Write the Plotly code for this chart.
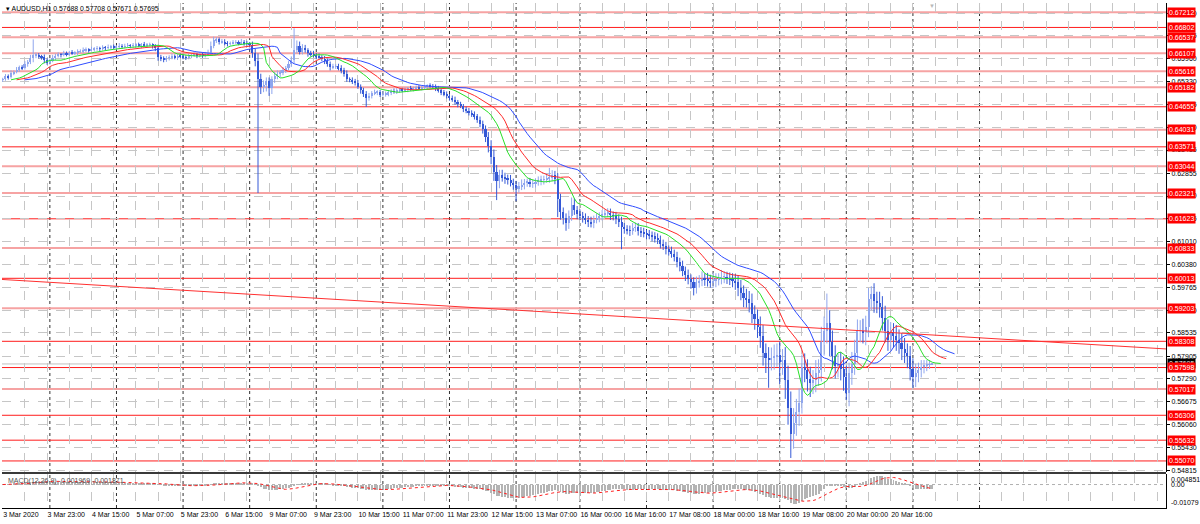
import plotly.graph_objects as go

# ---------------- data (prices in 1e-5 units) ----------------
PRICE_UNIT = 1e-5

closes_i = [
    65400, 65480, 65450, 65560, 65600, 65660, 65720, 65700, 65800, 65860, 65980, 66050,
    66060, 66020, 66000, 65920, 65850, 65900, 65980, 66040, 66070, 66060, 66100, 66080,
    66120, 66100, 66120, 66150, 66160, 66180, 66200, 66190, 66210, 66220, 66240, 66230,
    66260, 66250, 66270, 66280, 66260, 66280, 66300, 66290, 66300, 66310, 66300, 66320,
    66330, 66310, 66340, 66320, 66330, 66330, 66300, 66250, 66000, 65950, 65940, 65980,
    65990, 66020, 66000, 66040, 66020, 66000, 65990, 66030, 66050, 66060, 66040, 66070,
    66040, 66080, 66120, 66300, 66450, 66480, 66400, 66420, 66380, 66360, 66380, 66400,
    66400, 66380, 66420, 66380, 66360, 66340, 66100, 65900, 65400, 65200, 65250, 65350,
    65150, 65400, 65480, 65550, 65580, 65650, 65700, 65800, 65920, 66200, 66300, 66150,
    66250, 66180, 66100, 66080, 66050, 66020, 66000, 65960, 65900, 65800, 65720, 65750,
    65750, 65700, 65650, 65550, 65400, 65380, 65350, 65300, 65200, 65100, 65000, 64880,
    64950, 65020, 65050, 65050, 64980, 65000, 65000, 65050, 65080, 65060, 65100, 65120,
    65100, 65120, 65150, 65130, 65150, 65170, 65160, 65180, 65200, 65220, 65210, 65200,
    65150, 65100, 65050, 65000, 64950, 64900, 64850, 64780, 64720, 64680, 64600, 64550,
    64500, 64450, 64400, 64300, 64200, 64050, 63850, 63600, 63300, 62900, 62650, 62800,
    62750, 62720, 62680, 62600, 62550, 62450, 62500, 62550, 62600, 62620, 62580, 62580,
    62620, 62650, 62680, 62700, 62720, 62750, 62800, 62700, 62150, 61800, 61650, 61500,
    61700, 62000, 61850, 61750, 61700, 61650, 61600, 61550, 61500, 61600, 61650, 61700,
    61750, 61780, 61780, 61720, 61700, 61620, 61550, 61400, 61350, 61320, 61300, 61380,
    61400, 61300, 61250, 61220, 61200, 61180, 61150, 61100, 61050, 60950, 60900, 60800,
    60750, 60680, 60600, 60450, 60350, 60200, 60100, 60000, 59900, 59750, 59900, 59950,
    60000, 59980, 59950, 59900, 59950, 59980, 60000, 60050, 60050, 60020, 59980, 59950,
    59900, 59750, 59620, 59480, 59450, 59350, 59050, 58900, 58700, 58450, 58000, 57850,
    57820, 57860, 57900, 57950, 57750, 57800, 57250, 56500, 55800, 56100, 56400, 56650,
    57600, 57520, 57300, 57180, 57250, 57450, 57520, 58300, 58600, 58800, 58300, 57900,
    57650, 57700, 57550, 57350, 56900, 57450, 57700, 58000, 58600, 58600, 58550, 58700,
    59450, 59600, 59400, 59350, 59250, 58950, 58600, 58350, 58550, 58450, 58350, 58250,
    58100, 58000, 57900, 57550, 57350, 57450, 57530, 57620, 57650, 57680, 57688, 57695,
]

opens_i = [
    65380, 65400, 65480, 65450, 65560, 65600, 65660, 65720, 65700, 65800, 65860, 65980,
    66050, 66060, 66020, 66000, 65920, 65850, 65900, 65980, 66040, 66070, 66060, 66100,
    66080, 66120, 66100, 66120, 66150, 66160, 66180, 66200, 66190, 66210, 66220, 66240,
    66230, 66260, 66250, 66270, 66280, 66260, 66280, 66300, 66290, 66300, 66310, 66300,
    66320, 66330, 66310, 66340, 66320, 66330, 66330, 66300, 66250, 66000, 65950, 65940,
    65980, 65990, 66020, 66000, 66040, 66020, 66000, 65990, 66030, 66050, 66060, 66040,
    66070, 66040, 66080, 66120, 66300, 66450, 66480, 66400, 66420, 66380, 66360, 66380,
    66400, 66400, 66380, 66420, 66380, 66360, 66340, 66100, 65900, 65400, 65200, 65250,
    65350, 65150, 65400, 65480, 65550, 65580, 65650, 65700, 65800, 65920, 66200, 66300,
    66150, 66250, 66180, 66100, 66080, 66050, 66020, 66000, 65960, 65900, 65800, 65720,
    65750, 65750, 65700, 65650, 65550, 65400, 65380, 65350, 65300, 65200, 65100, 65000,
    64880, 64950, 65020, 65050, 65050, 64980, 65000, 65000, 65050, 65080, 65060, 65100,
    65120, 65100, 65120, 65150, 65130, 65150, 65170, 65160, 65180, 65200, 65220, 65210,
    65200, 65150, 65100, 65050, 65000, 64950, 64900, 64850, 64780, 64720, 64680, 64600,
    64550, 64500, 64450, 64400, 64300, 64200, 64050, 63850, 63600, 63300, 62900, 62650,
    62800, 62750, 62720, 62680, 62600, 62550, 62450, 62500, 62550, 62600, 62620, 62580,
    62580, 62620, 62650, 62680, 62700, 62720, 62750, 62800, 62700, 62150, 61800, 61650,
    61500, 61700, 62000, 61850, 61750, 61700, 61650, 61600, 61550, 61500, 61600, 61650,
    61700, 61750, 61780, 61780, 61720, 61700, 61620, 61550, 61400, 61350, 61320, 61300,
    61380, 61400, 61300, 61250, 61220, 61200, 61180, 61150, 61100, 61050, 60950, 60900,
    60800, 60750, 60680, 60600, 60450, 60350, 60200, 60100, 60000, 59900, 59750, 59900,
    59950, 60000, 59980, 59950, 59900, 59950, 59980, 60000, 60050, 60050, 60020, 59980,
    59950, 59900, 59750, 59620, 59480, 59450, 59350, 59050, 58900, 58700, 58450, 58000,
    57850, 57820, 57860, 57900, 57950, 57750, 57800, 57250, 56500, 55800, 56100, 56400,
    56650, 57600, 57520, 57300, 57180, 57250, 57450, 57520, 58300, 58600, 58800, 58300,
    57900, 57650, 57700, 57550, 57350, 56900, 57450, 57700, 58000, 58600, 58600, 58550,
    58700, 59450, 59600, 59400, 59350, 59250, 58950, 58600, 58350, 58550, 58450, 58350,
    58250, 58100, 58000, 57900, 57550, 57350, 57450, 57530, 57620, 57650, 57680, 57688,
]

# wick lengths above max(open, close) and below min(open, close), 1e-5 units
upper_wick = [
    40, 60, 50, 80, 40, 70, 50, 60, 90, 60, 80, 430,
    60, 50, 40, 70, 50, 60, 80, 50, 60, 40, 70, 50,
    50, 70, 40, 60, 50, 80, 60, 40, 70, 50, 60, 40,
    60, 40, 70, 50, 60, 40, 80, 50, 60, 70, 40, 60,
    50, 60, 40, 70, 50, 60, 40, 50, 80, 60, 70, 50,
    60, 70, 50, 40, 60, 70, 50, 60, 40, 70, 50, 60,
    50, 60, 80, 120, 100, 60, 50, 70, 60, 50, 40, 60,
    60, 50, 70, 40, 60, 50, 80, 120, 200, 150, 120, 100,
    100, 80, 120, 90, 70, 80, 60, 90, 100, 580, 150, 120,
    100, 80, 60, 70, 90, 60, 80, 50, 70, 60, 80, 70,
    60, 70, 80, 60, 90, 50, 70, 60, 80, 60, 70, 80,
    80, 60, 70, 50, 60, 80, 70, 60, 50, 70, 60, 50,
    50, 60, 40, 70, 50, 60, 70, 50, 60, 40, 70, 60,
    60, 70, 50, 60, 70, 50, 60, 80, 60, 70, 50, 60,
    70, 60, 80, 60, 90, 80, 100, 120, 150, 200, 180, 150,
    150, 120, 100, 130, 110, 100, 120, 140, 100, 90, 110, 100,
    100, 120, 110, 90, 130, 250, 140, 120, 160, 150, 130, 120,
    150, 200, 180, 120, 130, 110, 120, 100, 130, 110, 120, 100,
    110, 100, 130, 120, 100, 110, 120, 130, 110, 100, 120, 130,
    120, 110, 100, 130, 110, 120, 100, 110, 130, 120, 110, 100,
    100, 120, 110, 130, 120, 140, 130, 150, 120, 140, 160, 150,
    200, 150, 180, 160, 220, 170, 150, 190, 160, 140, 150, 170,
    180, 200, 220, 200, 250, 220, 250, 230, 260, 280, 300, 250,
    300, 280, 320, 300, 350, 300, 350, 400, 450, 400, 350, 380,
    350, 380, 300, 320, 280, 350, 300, 400, 380, 800, 350, 300,
    300, 280, 320, 350, 300, 280, 320, 350, 300, 280, 320, 300,
    300, 200, 280, 250, 300, 280, 320, 300, 280, 250, 300, 280,
    280, 300, 250, 280, 300, 250, 200, 180, 150, 120, 100, 13,
]
lower_wick = [
    50, 40, 60, 30, 50, 40, 60, 50, 40, 60, 50, 120,
    80, 60, 70, 90, 60, 50, 40, 60, 50, 70, 40, 60,
    60, 40, 50, 70, 40, 60, 50, 70, 40, 60, 50, 70,
    50, 60, 40, 70, 50, 60, 40, 70, 50, 40, 60, 50,
    60, 40, 70, 50, 60, 40, 70, 90, 100, 60, 80, 70,
    70, 50, 60, 80, 50, 60, 70, 50, 60, 40, 70, 50,
    60, 50, 40, 50, 60, 70, 60, 40, 60, 70, 50, 40,
    50, 60, 40, 70, 50, 80, 120, 150, 3080, 200, 150, 180,
    200, 150, 100, 80, 90, 70, 80, 60, 70, 90, 100, 80,
    80, 60, 90, 70, 60, 80, 50, 70, 90, 60, 80, 50,
    70, 60, 90, 80, 70, 60, 80, 70, 60, 90, 80, 230,
    60, 70, 50, 80, 60, 50, 70, 60, 80, 50, 60, 70,
    60, 50, 70, 40, 60, 50, 40, 60, 50, 70, 40, 60,
    70, 60, 80, 60, 70, 80, 60, 70, 80, 60, 90, 70,
    80, 70, 90, 80, 100, 120, 150, 180, 200, 250, 520, 200,
    120, 150, 130, 100, 140, 350, 120, 100, 130, 110, 100, 120,
    110, 100, 120, 130, 100, 120, 110, 140, 480, 200, 180, 200,
    150, 130, 120, 140, 110, 130, 120, 150, 110, 130, 100, 120,
    120, 100, 110, 130, 120, 140, 150, 600, 130, 120, 140, 110,
    110, 130, 120, 100, 130, 110, 140, 120, 110, 130, 120, 140,
    120, 110, 130, 140, 150, 130, 160, 150, 170, 200, 150, 140,
    150, 170, 160, 140, 150, 180, 160, 150, 170, 160, 150, 180,
    200, 220, 200, 250, 230, 260, 250, 280, 300, 320, 350, 400,
    770, 300, 320, 280, 600, 350, 500, 450, 650, 400, 350, 380,
    300, 320, 350, 380, 300, 320, 350, 300, 380, 350, 400, 350,
    350, 320, 300, 380, 180, 350, 320, 300, 280, 320, 300, 350,
    280, 300, 320, 280, 300, 350, 320, 300, 280, 320, 300, 280,
    300, 280, 320, 300, 300, 280, 250, 200, 180, 150, 120, 17,
]

symbol_text = "AUDUSD,H1"
x_tick_labels = [
    "3 Mar 2020", "3 Mar 23:00", "4 Mar 15:00", "5 Mar 07:00", "5 Mar 23:00",
    "6 Mar 15:00", "9 Mar 07:00", "9 Mar 23:00", "10 Mar 15:00", "11 Mar 07:00",
    "11 Mar 23:00", "12 Mar 15:00", "13 Mar 07:00", "16 Mar 00:00", "16 Mar 16:00",
    "17 Mar 08:00", "18 Mar 00:00", "18 Mar 16:00", "19 Mar 08:00", "20 Mar 00:00",
    "20 Mar 16:00",
]
bars_per_label = 16
bars_per_grid = 8
visible_bars = 419.2
day_separator_bars = [17, 41, 65, 89, 113, 137, 161, 185, 208, 232, 256, 280, 304, 328, 352]

price_ticks = [0.54815, 0.55430, 0.56060, 0.56675, 0.57290, 0.57905, 0.58535, 0.59150,
               0.59765, 0.60380, 0.61010, 0.61625, 0.62240, 0.62855, 0.63485, 0.64100,
               0.64715, 0.65330, 0.65960, 0.66575, 0.67190]
price_range = [0.547709, 0.674637]

levels = [0.67212, 0.66802, 0.66537, 0.66107, 0.65616, 0.65182, 0.64655, 0.64031,
          0.63571, 0.63044, 0.62321, 0.61623, 0.60833, 0.60013, 0.59203, 0.58308,
          0.57598, 0.57017, 0.56306, 0.55632, 0.55070]
level_faint = [1, 0, 1, 1, 1, 1, 0, 1, 0, 1, 1, 0, 1, 0, 1, 0, 0, 1, 0, 0, 0]

trend_bars = [-1.0, 419.5]
trend_prices = [0.59985, 0.58100]

macd_params = (12, 26, 9)
macd_header = (-0.001969, -0.001871)
macd_range = [-0.01079, 0.004851]

# ---------------- derived series ----------------
N = len(closes_i)
xs = list(range(N))
o = [v * PRICE_UNIT for v in opens_i]
c = [v * PRICE_UNIT for v in closes_i]
h = [(max(opens_i[i], closes_i[i]) + upper_wick[i]) * PRICE_UNIT for i in range(N)]
l = [(min(opens_i[i], closes_i[i]) - lower_wick[i]) * PRICE_UNIT for i in range(N)]
bid = c[-1]


def smma(vals, n):
    out, s = [], vals[0]
    for v in vals:
        s = (s * (n - 1) + v) / n
        out.append(s)
    return out


def ema(vals, n):
    a = 2.0 / (n + 1)
    out, s = [], vals[0]
    for v in vals:
        s = s + a * (v - s)
        out.append(s)
    return out


median = [(h[i] + l[i]) / 2 for i in range(N)]
jaw = smma(median, 13)
teeth = smma(median, 8)
lips = smma(median, 5)

e_fast = ema(c, macd_params[0])
e_slow = ema(c, macd_params[1])
macd_main = [e_fast[i] - e_slow[i] for i in range(N)]
signal = []
for i in range(N):
    w = macd_main[max(0, i - macd_params[2] + 1): i + 1]
    signal.append(sum(w) / len(w))

# ---------------- figure ----------------
FONT = "Liberation Sans"
BULL = "#8fa6ee"
BEAR = "#3559d6"
GRID = "#c6c6c6"
MIN_BODY = 0.00006

W, H = 1200, 524
ML, MR, MT, MB = 2, 34, 3, 16
plot_h = H - MT - MB
main_bottom_px = 472
sub_top_px = 474
main_dom = [(H - MB - main_bottom_px) / plot_h, 1]
sub_dom = [0, (H - MB - sub_top_px) / plot_h]

fig = go.Figure()

for is_bull, col in [(True, BULL), (False, BEAR)]:
    idx = [i for i in xs if (c[i] >= o[i]) == is_bull]
    wx, wy = [], []
    for i in idx:
        wx += [i, i, None]
        wy += [l[i], h[i], None]
    fig.add_trace(go.Scatter(x=wx, y=wy, mode="lines", line=dict(color=col, width=1),
                             hoverinfo="skip", xaxis="x", yaxis="y"))
    fig.add_trace(go.Bar(x=idx, base=[min(o[i], c[i]) for i in idx],
                         y=[max(abs(c[i] - o[i]), MIN_BODY) for i in idx],
                         width=0.72, marker=dict(color=col, line=dict(width=0)),
                         hoverinfo="skip", xaxis="x", yaxis="y"))

for series, shift, col in [(jaw, 8, "#2f4dff"), (teeth, 5, "#ff2b2b"), (lips, 3, "#27e027")]:
    fig.add_trace(go.Scatter(x=[i + shift for i in xs], y=series, mode="lines",
                             line=dict(color=col, width=1), hoverinfo="skip",
                             xaxis="x", yaxis="y"))

fig.add_trace(go.Scatter(x=trend_bars, y=trend_prices, mode="lines",
                         line=dict(color="#ff3030", width=1), hoverinfo="skip",
                         xaxis="x", yaxis="y"))

fig.add_trace(go.Bar(x=xs, y=macd_main, width=0.35, marker=dict(color="#b4b4b4", line=dict(width=0)),
                     hoverinfo="skip", xaxis="x", yaxis="y2"))
fig.add_trace(go.Scatter(x=xs, y=signal, mode="lines", line=dict(color="#ff2020", width=1, dash="dot"),
                         hoverinfo="skip", xaxis="x", yaxis="y2"))

shapes = []
for b in day_separator_bars:
    shapes.append(dict(type="line", xref="x", yref="paper", x0=b, x1=b, y0=0, y1=1,
                       line=dict(color="#303030", width=1, dash="dot"), layer="below"))
for lev, faint in zip(levels, level_faint):
    shapes.append(dict(type="line", xref="paper", yref="y", x0=0, x1=1, y0=lev, y1=lev,
                       line=dict(color="#f6a3a3" if faint else "#ff1c1c", width=2 if faint else 1),
                       layer="below"))
shapes.append(dict(type="line", xref="paper", yref="y", x0=0, x1=1, y0=bid, y1=bid,
                   line=dict(color="#c0c0c0", width=1), layer="below"))
shapes.append(dict(type="line", xref="paper", yref="y2", x0=0, x1=1, y0=0, y1=0,
                   line=dict(color="#b0b0b0", width=1, dash="dot"), layer="below"))
sep_y = (H - MB - (main_bottom_px + sub_top_px) / 2) / plot_h
shapes.append(dict(type="line", xref="paper", yref="paper", x0=0, x1=1, y0=sep_y, y1=sep_y,
                   line=dict(color="#3a3a3a", width=2)))

ann = []
ann.append(dict(x=0, xref="paper", xanchor="left", xshift=2, y=1, yref="paper", yanchor="top", yshift=0,
                text="▾ " + symbol_text + " " + " ".join(f"{v:.5f}" for v in (o[-1], h[-1], l[-1], c[-1])),
                showarrow=False, font=dict(family=FONT, size=6.9, color="#000000")))
ann.append(dict(x=xs[-1], xref="x", xanchor="center", y=1, yref="paper", yanchor="top", yshift=2,
                text="▼", showarrow=False, font=dict(family=FONT, size=6, color="#b8b8b8")))
ann.append(dict(x=1, xref="paper", xanchor="left", xshift=1, y=bid, yref="y", yanchor="middle",
                text=f"{bid:.5f}", bgcolor="#000000", borderpad=1, showarrow=False,
                font=dict(family=FONT, size=7, color="#ffffff")))
for lev in levels:
    ann.append(dict(x=1, xref="paper", xanchor="left", xshift=1, y=lev, yref="y", yanchor="middle",
                    text=f"{lev:.5f}", bgcolor="#ff0000", borderpad=1, showarrow=False,
                    font=dict(family=FONT, size=7, color="#ffffff")))
ann.append(dict(x=0, xref="paper", xanchor="left", xshift=4, y=macd_range[1], yref="y2", yanchor="top",
                yshift=-1, showarrow=False,
                text=f"MACD({macd_params[0]},{macd_params[1]},{macd_params[2]}) {macd_header[0]:.6f} {macd_header[1]:.6f}",
                font=dict(family=FONT, size=7, color="#505050")))
for val, anchor, txt in [(macd_range[1], "top", f"{macd_range[1]:.6f}"), (0, "middle", "0.00"),
                         (macd_range[0], "bottom", f"{macd_range[0]:.5f}")]:
    ann.append(dict(x=1, xref="paper", xanchor="left", xshift=3, y=val, yref="y2", yanchor=anchor,
                    text=txt, showarrow=False, font=dict(family=FONT, size=7, color="#000000")))

grid_vals = list(range(0, int(visible_bars) + 1, bars_per_grid))
label_map = {i * bars_per_label: t for i, t in enumerate(x_tick_labels)}
grid_text = [label_map.get(v, "") for v in grid_vals]

fig.update_layout(
    width=W, height=H, margin=dict(l=ML, r=MR, t=MT, b=MB),
    paper_bgcolor="#ffffff", plot_bgcolor="#ffffff", showlegend=False,
    barmode="overlay", bargap=0,
    shapes=shapes, annotations=ann,
    xaxis=dict(range=[-0.25, visible_bars], anchor="y2", tickvals=grid_vals, ticktext=grid_text,
               tickangle=0, showgrid=True, gridcolor=GRID, griddash="dash", gridwidth=1, ticks="",
               showline=True, linecolor="#000000", linewidth=1, zeroline=False,
               ticklabelposition="outside right", tickfont=dict(family=FONT, size=7, color="#000000")),
    yaxis=dict(domain=main_dom, range=price_range, anchor="x", side="right", tickvals=price_ticks,
               ticktext=[f"{v:.5f}" for v in price_ticks], showgrid=True, gridcolor=GRID, griddash="dash",
               showline=True, linecolor="#000000", linewidth=1, ticks="outside", ticklen=3,
               tickcolor="#000000", zeroline=False, tickfont=dict(family=FONT, size=7, color="#000000")),
    yaxis2=dict(domain=sub_dom, range=macd_range, anchor="x", side="right", showticklabels=False,
                showgrid=False, showline=True, linecolor="#000000", linewidth=1, zeroline=False),
)

fig.write_html("out.html", config={"displayModeBar": False},
               post_script="document.body.style.margin='0px';")
